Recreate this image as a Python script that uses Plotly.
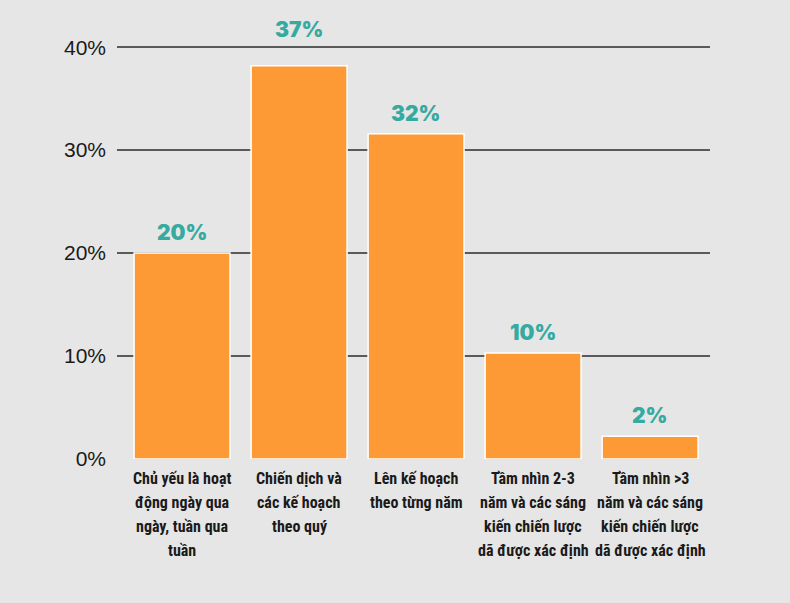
import plotly.graph_objects as go

# Dữ liệu
categories = [
    "Chủ yếu là hoạt<br>động ngày qua<br>ngày, tuần qua<br>tuần",
    "Chiến dịch và<br>các kế hoạch<br>theo quý",
    "Lên kế hoạch<br>theo từng năm",
    "Tầm nhìn 2-3<br>năm và các sáng<br>kiến chiến lược<br>dã được xác định",
    "Tầm nhìn >3<br>năm và các sáng<br>kiến chiến lược<br>dã được xác định",
]
values = [20, 38.2, 31.6, 10.3, 2.2]
value_labels = ["20%", "37%", "32%", "10%", "2%"]
y_ticks = [0, 10, 20, 30, 40]
y_tick_labels = ["0%", "10%", "20%", "30%", "40%"]

x_pos = list(range(len(categories)))

fig = go.Figure()
fig.add_trace(go.Bar(
    x=x_pos, y=values,
    marker=dict(color="#fd9a36", line=dict(color="white", width=1.5)),
    width=0.82, hoverinfo="skip",
))

# Nhãn giá trị
for i, (v, t) in enumerate(zip(values, value_labels)):
    fig.add_annotation(
        x=i, y=v, text=t, showarrow=False, yanchor="bottom",
        yshift=22 if i == 1 else 6,
        font=dict(family="Inter, Lato, sans-serif", size=21, color="#35aaa0", weight=900),
    )

# Nhãn danh mục (từng dòng, để giữ khoảng cách dòng)
for i, label in enumerate(categories):
    for j, line in enumerate(label.split("<br>")):
        fig.add_annotation(
            x=i, y=0, text=line, showarrow=False, yanchor="top",
            yshift=-8 - 24 * j,
            font=dict(family="Roboto Condensed, sans-serif", size=16,
                      color="#1a1a1a", weight="bold"),
        )

fig.update_layout(
    width=790, height=603,
    margin=dict(l=117, r=80, t=42, b=144),
    paper_bgcolor="#e6e6e6", plot_bgcolor="#e6e6e6",
    showlegend=False,
    xaxis=dict(
        range=[-0.556, 4.512], automargin=False,
        showticklabels=False,
        showgrid=False, zeroline=False, showline=False, ticks="",
    ),
    yaxis=dict(
        range=[0, 40.5], automargin=False,
        tickmode="array", tickvals=y_ticks, ticktext=y_tick_labels,
        tickfont=dict(family="Liberation Sans, sans-serif", size=21, color="#1a1a1a"),
        showgrid=True, gridcolor="#5a5a5a", gridwidth=1.5,
        zeroline=False, showline=False, ticks="", ticklabelstandoff=10,
    ),
)

fig.write_html(
    "out.html",
    config={"displayModeBar": False},
    post_script="document.body.style.margin='0';document.body.style.background='#e6e6e6';",
)
